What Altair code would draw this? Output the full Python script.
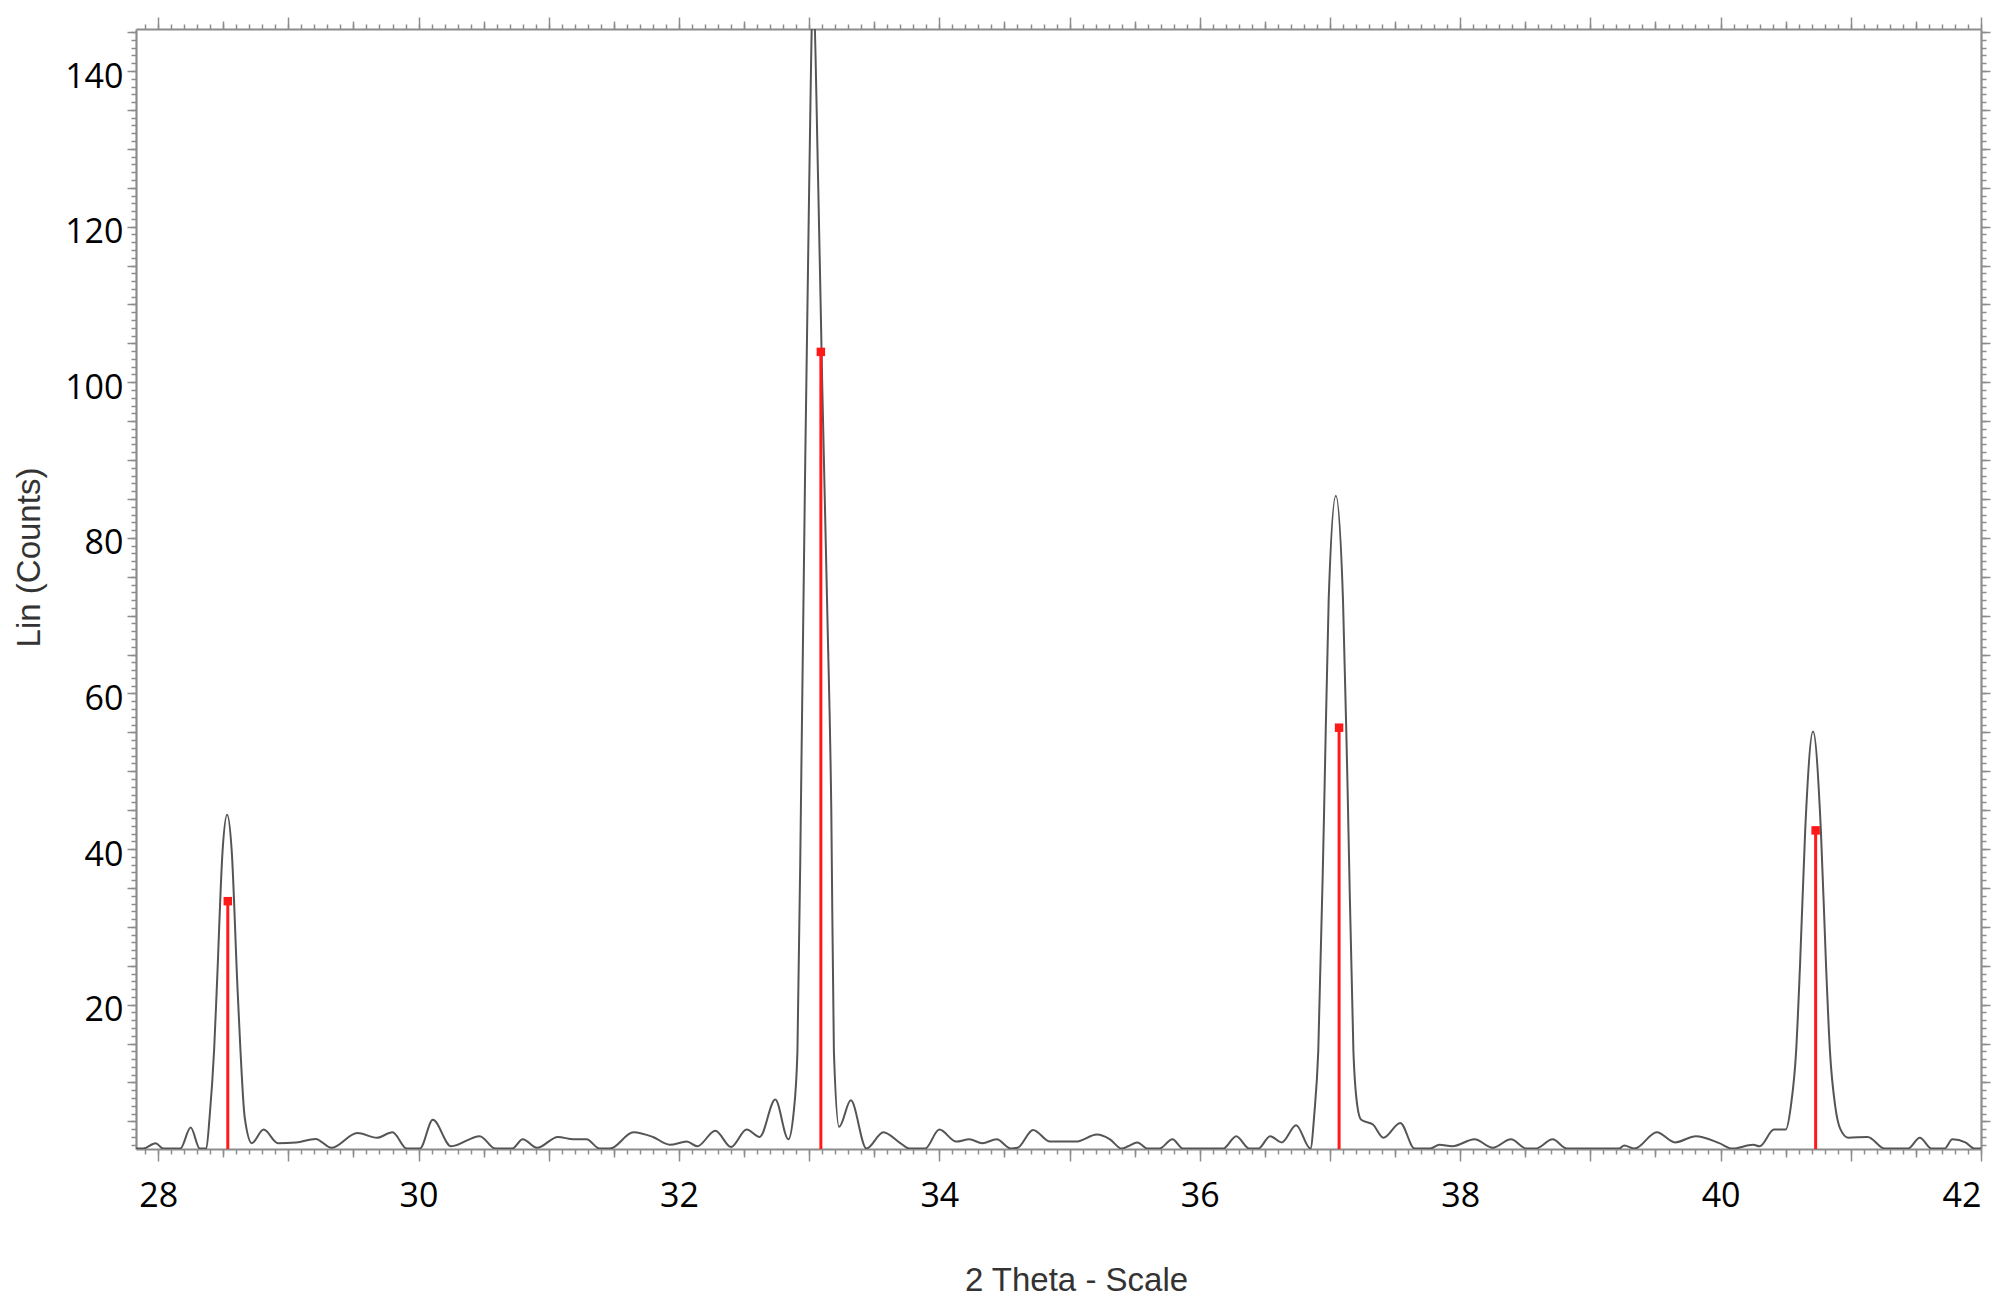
import altair as alt
import pandas as pd

# ---- measured pattern (2 Theta, Lin counts) ----
theta = [27.83, 27.885, 27.98, 28.04, 28.17, 28.25, 28.32, 28.37, 28.395, 28.43,
         28.452, 28.495, 28.53, 28.565, 28.608, 28.632, 28.665, 28.72, 28.81, 28.92,
         29.06, 29.21, 29.33, 29.53, 29.68, 29.80, 29.91, 30.01, 30.11, 30.25,
         30.47, 30.59, 30.72, 30.80, 30.91, 31.07, 31.19, 31.29, 31.39, 31.47,
         31.65, 31.80, 31.93, 32.06, 32.14, 32.28, 32.40, 32.52, 32.62, 32.74,
         32.84, 32.88, 32.91, 32.94, 32.97, 33.00, 33.03, 33.07, 33.10, 33.14,
         33.17, 33.19, 33.23, 33.32, 33.44, 33.57, 33.70, 33.77, 33.89, 34.00,
         34.13, 34.23, 34.33, 34.44, 34.55, 34.60, 34.72, 34.85, 35.05, 35.21,
         35.31, 35.40, 35.45, 35.52, 35.60, 35.69, 35.79, 35.87, 36.18, 36.28,
         36.38, 36.45, 36.54, 36.63, 36.74, 36.85, 36.88, 36.91, 36.955, 36.99,
         37.045, 37.10, 37.135, 37.18, 37.21, 37.24, 37.33, 37.41, 37.54, 37.65,
         37.77, 37.84, 37.94, 38.11, 38.25, 38.39, 38.51, 38.58, 38.71, 38.82,
         39.22, 39.26, 39.34, 39.51, 39.65, 39.81, 39.99, 40.09, 40.25, 40.30,
         40.41, 40.50, 40.54, 40.58, 40.61, 40.65, 40.71, 40.77, 40.81, 40.84,
         40.88, 40.92, 40.98, 41.13, 41.26, 41.44, 41.53, 41.62, 41.72, 41.78,
         41.88, 41.95, 42.0]
counts = [1.5, 1.5, 2.2, 1.5, 1.5, 4.2, 1.5, 1.5, 5.5, 14.2,
          22.7, 39.8, 44.4, 39.8, 22.7, 14.2, 5.5, 2.2, 3.95, 2.2,
          2.3, 2.75, 1.6, 3.5, 2.9, 3.6, 1.5, 1.5, 5.2, 1.8,
          3.1, 1.5, 1.5, 2.7, 1.6, 3.0, 2.7, 2.7, 1.5, 1.5,
          3.6, 3.0, 2.0, 2.4, 1.8, 3.8, 1.7, 3.95, 3.0, 7.8,
          2.7, 6.0, 14.0, 50.0, 90.0, 125.0, 150.0, 125.0, 100.0, 70.0,
          45.0, 14.0, 4.3, 7.7, 1.5, 3.6, 2.2, 1.5, 1.5, 3.95,
          2.4, 2.7, 2.2, 2.7, 1.5, 1.6, 3.9, 2.4, 2.4, 3.3,
          2.7, 1.5, 1.8, 2.3, 1.5, 1.5, 2.7, 1.5, 1.5, 3.1,
          1.5, 1.5, 3.1, 2.3, 4.5, 1.5, 6.0, 14.0, 45.0, 72.0,
          85.4, 72.0, 48.0, 14.0, 7.0, 5.2, 4.6, 2.9, 4.8, 1.5,
          1.5, 2.0, 1.8, 2.7, 1.6, 2.7, 1.5, 1.5, 2.7, 1.5,
          1.5, 1.9, 1.5, 3.6, 2.3, 3.1, 2.2, 1.5, 2.0, 1.8,
          3.95, 3.95, 7.0, 14.0, 25.0, 42.5, 55.1, 42.5, 25.0, 14.0,
          7.0, 4.0, 2.9, 3.0, 1.5, 1.5, 2.9, 1.5, 1.5, 2.7,
          2.3, 1.5, 1.5]

# ---- reference pattern (stick lines) ----
ref_theta = [28.535, 33.09, 37.07, 40.73]
ref_counts = [33.3, 103.9, 55.6, 42.4]

X_DOMAIN = [27.83, 42.0]
Y_DOMAIN = [1.45, 145.4]

x_major = list(range(28, 43))
x_half = [k + 0.5 for k in range(28, 42)]
x_minor = [round(27.9 + 0.1 * i, 1) for i in range(142)]
y_major = list(range(5, 146, 5))
y_minor = list(range(2, 146))

line_df = pd.DataFrame({"theta": theta, "counts": counts})
ref_df = pd.DataFrame({"theta": ref_theta, "counts": ref_counts})

TICK = "#8c8c8c"
LABEL_FONT = "Open Sans"
TITLE_FONT = "Liberation Sans"

xs = alt.Scale(domain=X_DOMAIN, nice=False, zero=False)
ys = alt.Scale(domain=Y_DOMAIN, nice=False, zero=False)


def tick_axis(orient, values, size, domain=False, **kw):
    return alt.Axis(orient=orient, values=values, tickSize=size, tickColor=TICK,
                    tickWidth=1.5, labels=False, domain=domain, domainColor=TICK,
                    domainWidth=2.2, grid=False, title=None, **kw)


bottom_major = alt.Axis(
    orient="bottom", values=x_major, tickSize=12, tickColor=TICK, tickWidth=1.5,
    domain=True, domainColor=TICK, domainWidth=2.2, grid=False,
    labelExpr="datum.value % 2 == 0 ? datum.label : ''",
    labelFont=LABEL_FONT, labelFontSize=34, labelColor="#000000",
    labelPadding=18, labelFlush=True,
    title="2 Theta - Scale", titleFont=TITLE_FONT, titleFontSize=33,
    titleFontWeight="normal", titleColor="#333333",
    titleX=940, titleY=141, titleAlign="center", titleBaseline="alphabetic",
)
left_major = alt.Axis(
    orient="left", values=y_major, tickSize=9, tickColor=TICK, tickWidth=1.5,
    domain=True, domainColor=TICK, domainWidth=2.2, grid=False,
    labelExpr="datum.value % 20 == 0 ? datum.label : ''",
    labelFont=LABEL_FONT, labelFontSize=34, labelColor="#000000",
    labelPadding=4, labelOffset=6,
    title="Lin (Counts)", titleFont=TITLE_FONT, titleFontSize=33,
    titleFontWeight="normal", titleColor="#333333",
    titleX=-107, titleY=528, titleAngle=270, titleAlign="center",
    titleBaseline="middle",
)

base = alt.Chart(line_df)

pattern = base.mark_line(color="#555555", strokeWidth=2, interpolate="monotone",
                         clip=True).encode(
    x=alt.X("theta:Q", scale=xs, axis=bottom_major),
    y=alt.Y("counts:Q", scale=ys, axis=left_major),
)

inv1 = base.mark_line(opacity=0).encode(
    x=alt.X("theta:Q", scale=xs, axis=tick_axis("bottom", x_minor, 5)),
    y=alt.Y("counts:Q", scale=ys, axis=tick_axis("left", y_minor, 5)),
)
inv2 = base.mark_line(opacity=0).encode(
    x=alt.X("theta:Q", scale=xs, axis=tick_axis("bottom", x_half, 8)),
    y=alt.Y("counts:Q", scale=ys, axis=tick_axis("right", y_major, 9, domain=True)),
)
inv3 = base.mark_line(opacity=0).encode(
    x=alt.X("theta:Q", scale=xs, axis=tick_axis("top", x_major, 12, domain=True)),
    y=alt.Y("counts:Q", scale=ys, axis=tick_axis("right", y_minor, 5)),
)
inv4 = base.mark_line(opacity=0).encode(
    x=alt.X("theta:Q", scale=xs, axis=tick_axis("top", x_minor, 5)),
    y=alt.Y("counts:Q", scale=ys, axis=None),
)
inv5 = base.mark_line(opacity=0).encode(
    x=alt.X("theta:Q", scale=xs, axis=tick_axis("top", x_half, 8)),
    y=alt.Y("counts:Q", scale=ys, axis=None),
)

sticks = alt.Chart(ref_df).mark_rule(color="#ff1a1a", strokeWidth=3).encode(
    x=alt.X("theta:Q", scale=xs, axis=None),
    y=alt.Y("counts:Q", scale=ys, axis=None),
    y2=alt.datum(Y_DOMAIN[0]),
)
heads = alt.Chart(ref_df).mark_square(color="#ff1a1a", size=72, opacity=1).encode(
    x=alt.X("theta:Q", scale=xs, axis=None),
    y=alt.Y("counts:Q", scale=ys, axis=None),
)

chart = alt.layer(
    inv1, inv2, inv3, inv4, inv5, pattern, sticks, heads
).resolve_axis(
    x="independent", y="independent"
).properties(
    width=1845, height=1120,
    padding={"left": 128, "top": 21, "right": 11, "bottom": 151},
    autosize=alt.AutoSizeParams(type="none"),
    background="white",
).configure_view(stroke=None)

chart.save("out.html", embed_options={"renderer": "svg", "actions": False})
